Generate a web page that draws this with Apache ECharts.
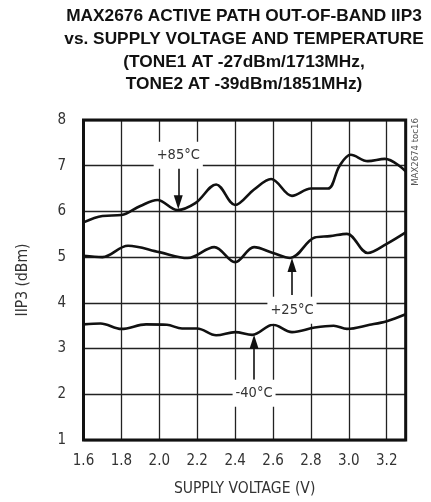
<!DOCTYPE html>
<html>
<head>
<meta charset="utf-8">
<script src="https://cdn.jsdelivr.net/npm/echarts@6/dist/echarts.min.js"></script>
<style>html,body{margin:0;padding:0;background:#fff;}#c{width:431px;height:502px;}</style>
</head>
<body>
<div id="c"></div>
<script>
// Supply voltage (V) sample points and IIP3 (dBm) values
var v85   = [1.6, 1.7, 1.8, 1.9, 1.99, 2.095, 2.19, 2.3, 2.4, 2.5, 2.59, 2.7, 2.8, 2.89, 2.95, 3.01, 3.1, 3.19, 3.3];
var iip85 = [5.76, 5.90, 5.92, 6.12, 6.25, 6.03, 6.18, 6.59, 6.14, 6.48, 6.71, 6.34, 6.50, 6.50, 6.99, 7.24, 7.10, 7.15, 6.88];
var v25   = [1.6, 1.7, 1.835, 2.0, 2.15, 2.29, 2.4, 2.5, 2.6, 2.69, 2.82, 2.9, 2.99, 3.1, 3.2, 3.3];
var iip25 = [5.03, 5.00, 5.25, 5.11, 4.98, 5.22, 4.89, 5.22, 5.09, 4.98, 5.43, 5.46, 5.51, 5.09, 5.29, 5.54];
var vm40   = [1.6, 1.69, 1.8, 1.93, 2.04, 2.12, 2.2, 2.3, 2.4, 2.49, 2.6, 2.7, 2.82, 2.92, 2.99, 3.11, 3.2, 3.3];
var iipm40 = [3.53, 3.55, 3.43, 3.53, 3.52, 3.44, 3.44, 3.29, 3.36, 3.30, 3.52, 3.36, 3.46, 3.50, 3.43, 3.52, 3.60, 3.75];
var seriesNames = ['+85°C', '+25°C', '-40°C'];
var xTicks = [1.6, 3.3, 0.2];   // min, max, interval
var yTicks = [1, 8, 1];
// annotation anchors: [voltage, label value, arrow start, arrow end]
var ann85 = [2.1, 7.23, 7.02, 6.20];
var ann25 = [2.7, 3.84, 4.17, 4.83];
var annm40 = [2.5, 2.02, 2.32, 3.15];

function zip(xs, ys) { return xs.map(function (x, i) { return [x, ys[i]]; }); }

var FONT = '"DejaVu Sans Condensed", "Liberation Sans", sans-serif';
var TFONT = '"Liberation Sans", Arial, sans-serif';

function mk(name, xs, ys, ann) {
  return {
    name: name, type: 'line', data: zip(xs, ys), smooth: 0.35, symbol: 'none',
    lineStyle: { color: '#111', width: 2.6 }, silent: true, z: 3,
    markLine: {
      silent: true, symbol: ['none', 'triangle'], symbolSize: [9, 14],
      lineStyle: { type: 'solid', color: '#111', width: 1.6 },
      label: { show: false },
      data: [[{ coord: [ann[0], ann[2]] }, { coord: [ann[0], ann[3]] }]]
    },
    markPoint: {
      silent: true, symbol: 'circle', symbolSize: 0,
      label: {
        show: true, position: 'inside', formatter: name,
        fontFamily: FONT, fontSize: 14.5, color: '#333',
        backgroundColor: '#fff', padding: [6, 3]
      },
      data: [{ coord: [ann[0], ann[1]] }]
    }
  };
}

var chart = echarts.init(document.getElementById('c'), null, { renderer: 'canvas' });
chart.setOption({
  animation: false,
  backgroundColor: '#fff',
  title: {
    text: 'MAX2676 ACTIVE PATH OUT-OF-BAND IIP3\nvs. SUPPLY VOLTAGE AND TEMPERATURE\n(TONE1 AT -27dBm/1713MHz,\nTONE2 AT -39dBm/1851MHz)',
    left: 244, top: 5, padding: 0, textAlign: 'center',
    textStyle: { fontFamily: TFONT, fontWeight: 'bold', fontSize: 17.3, lineHeight: 22.7, color: '#111' }
  },
  grid: { left: 83.5, right: 25.3, top: 120, bottom: 59, show: true, borderColor: '#111', borderWidth: 3, backgroundColor: 'transparent', z: 4 },
  xAxis: {
    type: 'value', min: xTicks[0], max: xTicks[1], interval: xTicks[2],
    name: 'SUPPLY VOLTAGE (V)', nameLocation: 'middle', nameGap: 41,
    nameTextStyle: { fontFamily: FONT, fontSize: 15.5, color: '#333' },
    axisLine: { show: false }, axisTick: { show: false },
    axisLabel: { showMaxLabel: false, margin: 14, fontFamily: FONT, fontSize: 15, color: '#333',
      formatter: function (v) { return v.toFixed(1); } },
    splitLine: { show: true, lineStyle: { color: '#222', width: 1.3 } }
  },
  yAxis: {
    type: 'value', min: yTicks[0], max: yTicks[1], interval: yTicks[2],
    name: 'IIP3 (dBm)', nameLocation: 'middle', nameGap: 53,
    nameTextStyle: { fontFamily: FONT, fontSize: 15.5, color: '#333' },
    axisLine: { show: false }, axisTick: { show: false },
    axisLabel: { margin: 17.5, fontFamily: FONT, fontSize: 15, color: '#333' },
    splitLine: { show: true, lineStyle: { color: '#222', width: 1.3 } }
  },
  graphic: [{
    type: 'text', x: 416, y: 152, rotation: Math.PI / 2,
    style: { text: 'MAX2674 toc16', textAlign: 'center', textVerticalAlign: 'middle', fontFamily: FONT, fontSize: 9.5, fill: '#555' }
  }],
  series: [
    mk(seriesNames[0], v85, iip85, ann85),
    mk(seriesNames[1], v25, iip25, ann25),
    mk(seriesNames[2], vm40, iipm40, annm40)
  ]
});
</script>
</body>
</html>
